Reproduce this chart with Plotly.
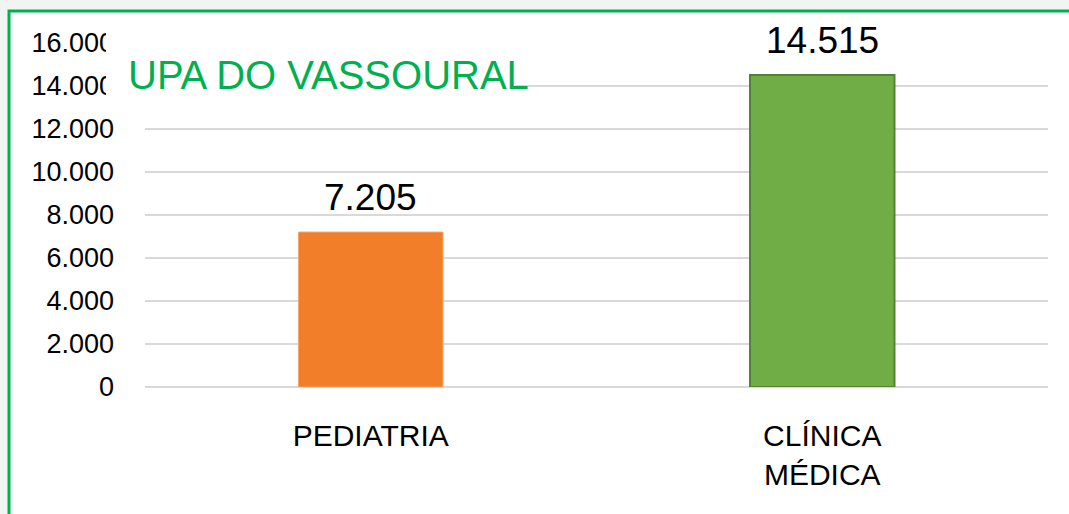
import plotly.graph_objects as go

categories = ["PEDIATRIA", "CLÍNICA<br>MÉDICA"]
values = [7205, 14515]
value_labels = ["7.205", "14.515"]
tick_vals = [0, 2000, 4000, 6000, 8000, 10000, 12000, 14000, 16000]
tick_text = ["0", "2.000", "4.000", "6.000", "8.000", "10.000", "12.000", "14.000", "16.000"]
title_text = "UPA DO VASSOURAL"

W, H = 1069, 514
L, R, T, B = 145, 21, 43, 127
pw, ph = W - L - R, H - T - B

def px_x(x):
    return (x - L) / pw

def px_y(y):
    return (H - B - y) / ph

fig = go.Figure()
fig.add_trace(go.Bar(
    x=categories, y=values,
    width=0.32,
    marker=dict(color=["#f27e2a", "#70ad47"],
                line=dict(color=["#f3a570", "#548235"], width=[1, 2])),
    hoverinfo="skip",
))

for c, v, t in zip(categories, values, value_labels):
    fig.add_annotation(x=c, y=v, text=t, showarrow=False, yanchor="bottom",
                       yshift=12, font=dict(family="Liberation Sans, Arial", size=37, color="#000000"))

# outer green frame
fig.add_shape(type="rect", xref="paper", yref="paper",
              x0=px_x(9), x1=px_x(1090), y0=px_y(540), y1=px_y(11),
              line=dict(color="#00b050", width=3), fillcolor="white", layer="below")
# white box behind title
fig.add_shape(type="rect", xref="paper", yref="paper",
              x0=px_x(106), x1=px_x(515), y0=px_y(106), y1=px_y(30),
              line=dict(width=0), fillcolor="white", layer="above")
fig.add_annotation(xref="paper", yref="paper", x=px_x(126), y=px_y(75),
                   xanchor="left", yanchor="middle", showarrow=False, text=title_text,
                   font=dict(family="Liberation Sans, Arial", size=40, color="#00b050"))

fig.update_layout(
    width=W, height=H,
    margin=dict(l=L, r=R, t=T, b=B, pad=0),
    paper_bgcolor="#f1f5f2", plot_bgcolor="white",
    showlegend=False,
    font=dict(family="Liberation Sans, Arial", color="#000000"),
)
fig.update_xaxes(showgrid=False, showline=False, ticks="", tickfont=dict(size=30),
                 ticklabelstandoff=28)
fig.update_yaxes(range=[0, 16000], tickvals=tick_vals, ticktext=tick_text,
                 showgrid=True, gridcolor="#d9d9d9", gridwidth=1.5,
                 zeroline=True, zerolinecolor="#d9d9d9", zerolinewidth=1.5,
                 showline=False, ticks="", tickfont=dict(size=27), ticklabelstandoff=30)

fig.write_html("out.html", config={"displayModeBar": False},
               post_script="document.body.style.margin='0';document.body.style.background='#f1f5f2';")
